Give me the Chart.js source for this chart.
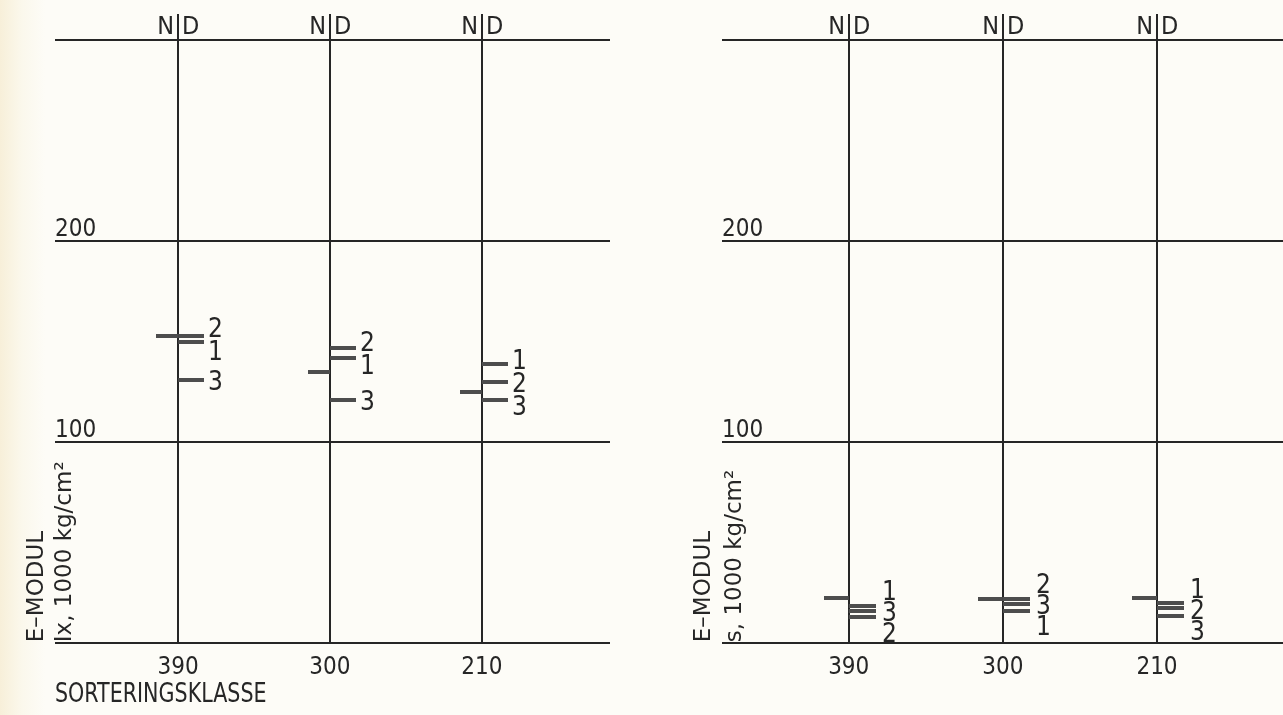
<!DOCTYPE html>
<html>
<head>
<meta charset="utf-8">
<script src="https://cdn.jsdelivr.net/npm/chart.js@4.4.1/dist/chart.umd.min.js"></script>
<style>
  html, body { margin: 0; padding: 0; }
  body {
    width: 1283px; height: 715px; overflow: hidden; position: relative;
    background: linear-gradient(to right, #f7efd9 0px, #fbf8ec 22px, #fdfcf7 45px, #fdfcf7 100%);
  }
  .panel { position: absolute; top: 0; height: 715px; }
  #left  { left: 0; width: 640px; }
  #right { left: 660px; width: 640px; }
</style>
</head>
<body>
<div class="panel" id="left"><canvas id="cLeft" width="640" height="715"></canvas></div>
<div class="panel" id="right"><canvas id="cRight" width="640" height="715"></canvas></div>
<script>
// ---- data ----
const classes = [390, 300, 210];          // sorteringsklasse
const yTicks  = [0, 100, 200, 300];

// E-modul Ix, 1000 kg/cm2  (N = venstre side, D1..D3 = høyre side)
const ixN  = [153, 135, 125];
const ixD1 = [150, 142, 139];
const ixD2 = [153, 147, 130];
const ixD3 = [131, 121, 121];

// E-modul s, 1000 kg/cm2
const sN  = [22.5, 22.2, 22.5];
const sD1 = [18.6, 15.9, 20.2];
const sD2 = [13.1, 22.2, 17.6];
const sD3 = [15.9, 19.3, 13.6];

// ---- style ----
const INK  = '#262626';
const MARK = '#4d4d4d';
const FONT = "'DejaVu Sans Condensed', 'Liberation Sans Narrow', 'DejaVu Sans', sans-serif";
const FONT_W = "'DejaVu Sans', sans-serif";

// short horizontal tick used as point style; centre of image = the class line
function tickImg(side, len) {
  const c = document.createElement('canvas');
  c.width = 2 * len + 2; c.height = 4;
  const g = c.getContext('2d');
  g.fillStyle = MARK;
  if (side === 'N') g.fillRect(0, 0, len + 1, 4);
  else g.fillRect(len + 1, 0, len + 1, 4);
  return c;
}

function pts(arr) { return classes.map((c, i) => ({ x: c, y: arr[i] })); }

// spread labels so they don't overlap
function spread(items, gap) {
  items.sort((a, b) => a.y - b.y);
  let groups = items.map(it => [it]);
  const place = g => {
    const c = g.reduce((s, it) => s + it.y, 0) / g.length;
    g.forEach((it, k) => { it.ly = c + gap * (k - (g.length - 1) / 2); });
  };
  groups.forEach(place);
  let moved = true;
  while (moved) {
    moved = false;
    for (let k = 0; k < groups.length - 1; k++) {
      const a = groups[k], b = groups[k + 1];
      if (b[0].ly - a[a.length - 1].ly < gap - 0.01) {
        groups.splice(k, 2, a.concat(b));
        place(groups[k]);
        moved = true;
        break;
      }
    }
  }
  return items;
}

// draws: class lines above the top, N|D, numbered labels, titles
const decorPlugin = {
  id: 'decor',
  afterDatasetsDraw(chart, args, opts) {
    const ctx = chart.ctx, xs = chart.scales.x, ys = chart.scales.y, ca = chart.chartArea;
    ctx.save();
    ctx.strokeStyle = INK; ctx.fillStyle = INK; ctx.lineWidth = 2;

    classes.forEach((c, i) => {
      const x = Math.round(xs.getPixelForValue(c));
      ctx.beginPath(); ctx.moveTo(x, ca.top); ctx.lineTo(x, ca.top - 26); ctx.stroke();
      ctx.font = '25px ' + FONT;
      ctx.textBaseline = 'middle';
      ctx.textAlign = 'right'; ctx.fillText('N', x - 4, ca.top - 13);
      ctx.textAlign = 'left';  ctx.fillText('D', x + 4, ca.top - 13);

      const items = opts.d.map((arr, k) => ({ lab: String(k + 1), y: ys.getPixelForValue(arr[i]) }));
      spread(items, opts.gap);
      ctx.font = '26px ' + FONT;
      items.forEach(it => ctx.fillText(it.lab, x + opts.dx, it.ly + 3));
    });

    // y title, rotated
    ctx.font = '23px ' + FONT_W;
    ctx.textAlign = 'left'; ctx.textBaseline = 'alphabetic';
    opts.title.forEach((t, k) => {
      ctx.save();
      ctx.translate(ca.left + opts.tx[k], ca.bottom - 1);
      ctx.rotate(-Math.PI / 2);
      ctx.fillText(t, 0, 0);
      ctx.restore();
    });

    // x title (narrow, like the original lettering)
    if (opts.xtitle) {
      ctx.save();
      ctx.font = '27px ' + FONT;
      ctx.textBaseline = 'middle';
      ctx.translate(ca.left, ca.bottom + 52);
      ctx.scale(0.85, 1);
      ctx.fillText(opts.xtitle, 0, 0);
      ctx.restore();
    }
    ctx.restore();
  }
};

function makeChart(id, cfg) {
  const nImg = tickImg('N', cfg.nLen), dImg = tickImg('D', cfg.dLen);
  const ds = [cfg.n].concat(cfg.d).map((arr, k) => ({
    data: pts(arr),
    pointStyle: k === 0 ? nImg : dImg,
    pointRadius: 5,
    showLine: false
  }));
  return new Chart(document.getElementById(id), {
    type: 'scatter',
    data: { datasets: ds },
    plugins: [decorPlugin],
    options: {
      responsive: false,
      animation: false,
      layout: { padding: cfg.pad },
      plugins: {
        legend: { display: false },
        tooltip: { enabled: false },
        decor: { d: cfg.d, dx: cfg.dx, gap: cfg.gap, title: cfg.title, tx: cfg.tx, xtitle: cfg.xtitle }
      },
      scales: {
        x: {
          type: 'linear', reverse: true, min: cfg.xmin, max: cfg.xmax,
          afterBuildTicks: s => { s.ticks = classes.map(v => ({ value: v })); },
          grid: { color: INK, lineWidth: 2, drawTicks: false },
          border: { display: false },
          ticks: { color: INK, font: { family: FONT, size: 24 }, padding: 10, maxRotation: 0 }
        },
        y: {
          min: 0, max: 300,
          afterBuildTicks: s => { s.ticks = yTicks.map(v => ({ value: v })); },
          grid: { color: INK, lineWidth: 2, drawTicks: false },
          border: { display: false },
          ticks: {
            mirror: true, padding: 0, labelOffset: -11, color: INK,
            font: { family: FONT, size: 24 },
            callback: v => (v === 100 || v === 200) ? String(v) : ''
          }
        }
      }
    }
  });
}

makeChart('cLeft', {
  n: ixN, d: [ixD1, ixD2, ixD3],
  nLen: 21, dLen: 25, dx: 30, gap: 23,
  xmin: 134, xmax: 463,
  pad: { left: 55, right: 30, top: 40, bottom: 23 },
  xtitle: 'SORTERINGSKLASSE',
  title: ['E\u2013MODUL', 'Ix, 1000 kg/cm\u00b2'], tx: [-12, 16]
});

makeChart('cRight', {
  n: sN, d: [sD1, sD2, sD3],
  nLen: 24, dLen: 26, dx: 33, gap: 21,
  xmin: 130, xmax: 464,
  pad: { left: 62, right: 0, top: 40, bottom: 23 },
  xtitle: null,
  title: ['E\u2013MODUL', 's, 1000 kg/cm\u00b2'], tx: [-12, 19]
});
</script>
</body>
</html>
